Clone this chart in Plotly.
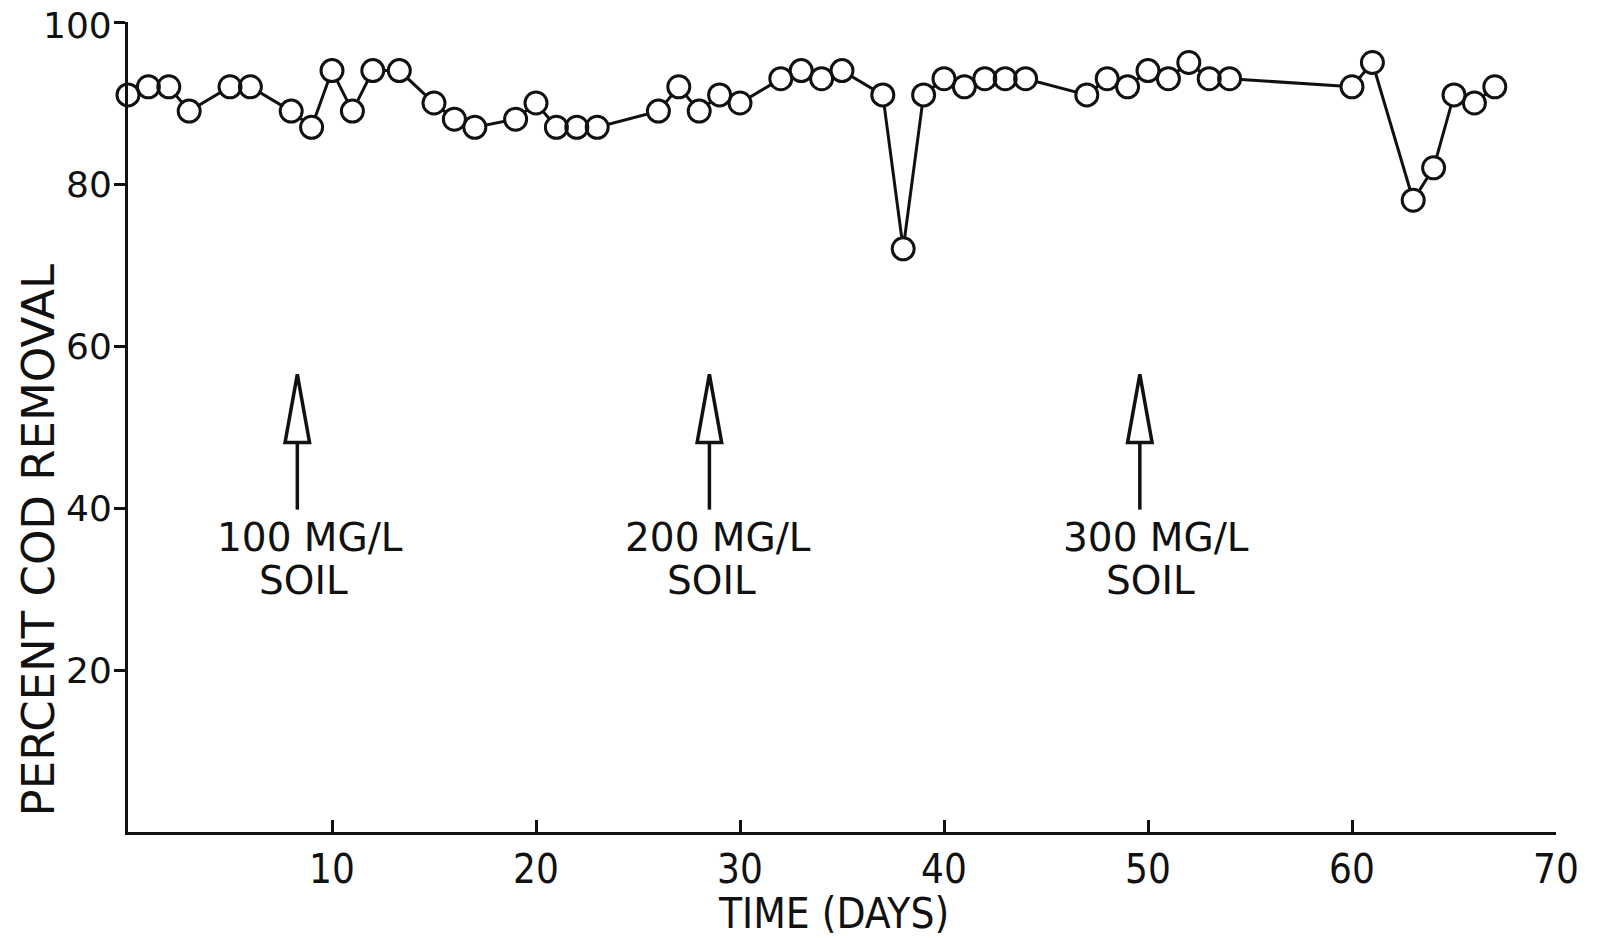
import plotly.graph_objects as go

# ---- data ----
days = [0, 1, 2, 3, 5, 6, 8, 9, 10, 11, 12, 13.3, 15, 16, 17, 19, 20, 21, 22, 23,
        26, 27, 28, 29, 30, 32, 33, 34, 35, 37, 38, 39, 40, 41, 42, 43, 44,
        47, 48, 49, 50, 51, 52, 53, 54, 60, 61, 63, 64, 65, 66, 67]
cod_removal = [91, 92, 92, 89, 92, 92, 89, 87, 94, 89, 94, 94, 90, 88, 87, 88, 90, 87, 87, 87,
               89, 92, 89, 91, 90, 93, 94, 93, 94, 91, 72, 91, 93, 92, 93, 93, 93,
               91, 93, 92, 94, 93, 95, 93, 93, 92, 95, 78, 82, 91, 90, 92]

arrow_days = [8.3, 28.5, 49.6]
arrow_bottom = 39.8
arrow_head_base = 48.1
arrow_tip = 56.5
label_days = [8.9, 28.9, 50.4]
label_line1 = ["100 MG/L", "200 MG/L", "300 MG/L"]
label_line2 = ["SOIL", "SOIL", "SOIL"]

x_ticks = [10, 20, 30, 40, 50, 60, 70]
y_ticks = [20, 40, 60, 80, 100]

INK = "#111111"
MAIN_FONT = "DejaVu Sans, Open Sans, sans-serif"
NARROW_FONT = "Liberation Sans Narrow, DejaVu Sans Condensed, sans-serif"

fig = go.Figure()
# connecting line
fig.add_trace(go.Scatter(x=days, y=cod_removal, mode="lines",
                         line=dict(color=INK, width=3), cliponaxis=False,
                         hoverinfo="skip", showlegend=False))
# white mask inside circles
fig.add_trace(go.Scatter(x=days, y=cod_removal, mode="markers",
                         marker=dict(symbol="circle", size=22, color="white",
                                     line=dict(width=0)),
                         cliponaxis=False, hoverinfo="skip", showlegend=False))
# open circles
fig.add_trace(go.Scatter(x=days, y=cod_removal, mode="markers",
                         marker=dict(symbol="circle-open", size=22, color=INK,
                                     line=dict(width=3, color=INK)),
                         cliponaxis=False, showlegend=False,
                         name="Percent COD removal"))

shapes = []
for xd in arrow_days:
    shapes.append(dict(type="line", xref="x", yref="y", x0=xd, x1=xd,
                       y0=arrow_bottom, y1=arrow_head_base,
                       line=dict(color=INK, width=3.5)))
    shapes.append(dict(type="path", xref="x", yref="y",
                       path=f"M {xd-0.6},{arrow_head_base} L {xd},{arrow_tip} L {xd+0.6},{arrow_head_base} Z",
                       line=dict(color=INK, width=3.5), fillcolor="white"))

annotations = []
for xd, t1, t2 in zip(label_days, label_line1, label_line2):
    annotations.append(dict(x=xd, y=36.4, xref="x", yref="y", text=t1,
                            showarrow=False, xanchor="center", yanchor="middle",
                            font=dict(family=MAIN_FONT, size=39, color=INK)))
    annotations.append(dict(x=xd - 0.3, y=31.0, xref="x", yref="y", text=t2,
                            showarrow=False, xanchor="center", yanchor="middle",
                            font=dict(family=MAIN_FONT, size=39, color=INK)))
# y tick labels drawn as annotations so the top one ("100") is not dropped at the page edge
for yv in y_ticks:
    annotations.append(dict(x=0, y=yv, xref="paper", yref="y", text=str(yv),
                            showarrow=False, xanchor="right", yanchor="middle",
                            xshift=-14, yshift=(-3 if yv == 100 else 0),
                            font=dict(family=MAIN_FONT, size=36, color=INK)))
annotations.append(dict(x=-0.063, y=0.36, xref="paper", yref="paper",
                        xanchor="center", yanchor="middle",
                        text="PERCENT COD REMOVAL", textangle=-90, showarrow=False,
                        font=dict(family=MAIN_FONT, size=45, color=INK)))
annotations.append(dict(x=0.494, y=-0.1, xref="paper", yref="paper",
                        xanchor="center", yanchor="middle",
                        text="TIME (DAYS)", showarrow=False,
                        font=dict(family=NARROW_FONT, size=42, color=INK)))

fig.update_layout(
    width=1590, height=930,
    margin=dict(l=120, r=42, t=14, b=106, autoexpand=False),
    paper_bgcolor="white", plot_bgcolor="white",
    shapes=shapes, annotations=annotations,
    xaxis=dict(range=[0, 70], tickvals=x_ticks, ticktext=[str(v) for v in x_ticks],
               ticks="inside", ticklen=12, tickwidth=2.5, tickcolor=INK,
               showline=True, linecolor=INK, linewidth=3, showgrid=False, zeroline=False,
               tickfont=dict(family=NARROW_FONT, size=40, color=INK)),
    yaxis=dict(range=[0, 100], tickvals=y_ticks, showticklabels=False,
               ticks="outside", ticklen=11, tickwidth=2.5, tickcolor=INK,
               showline=True, linecolor=INK, linewidth=3, showgrid=False, zeroline=False),
)

fig.write_html("out.html")
